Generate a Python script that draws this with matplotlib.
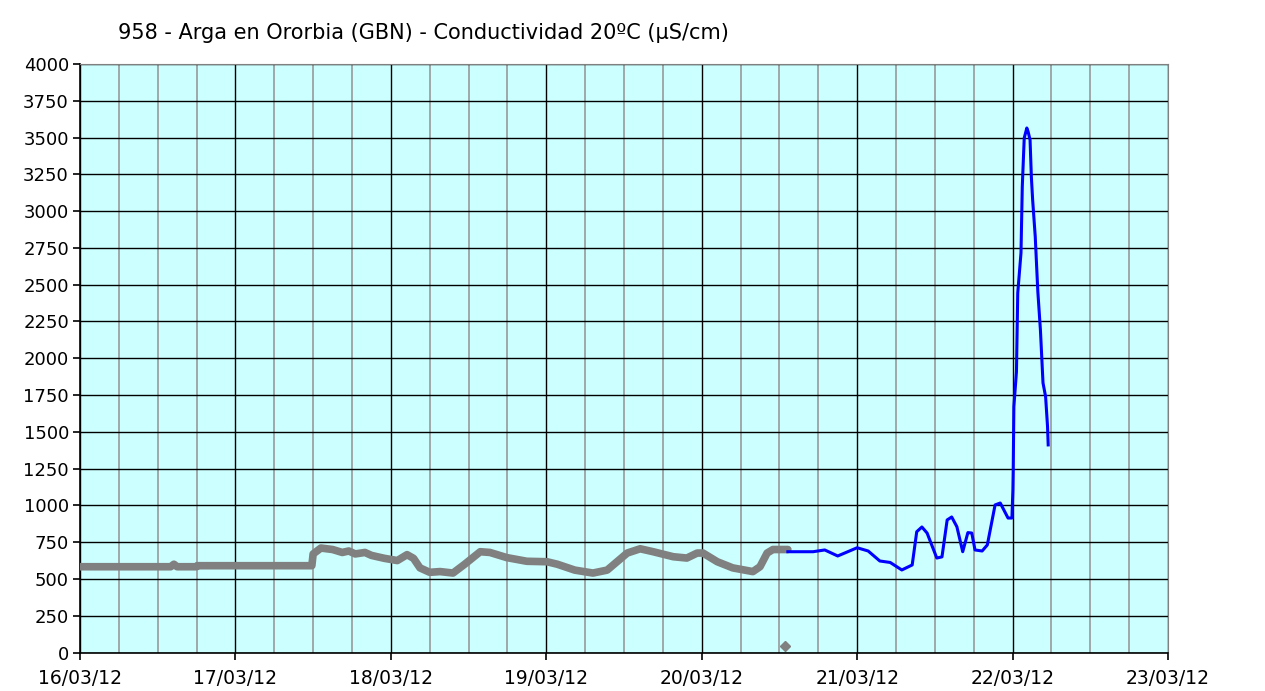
import datetime as dt
import matplotlib
matplotlib.use("Agg")
import matplotlib.pyplot as plt
import matplotlib.dates as mdates
from matplotlib.ticker import MultipleLocator

# ---- data (hours since 16/03/12 00:00, conductivity µS/cm) ----
grey_hours = [0, 14.0, 14.5, 15.0, 18.0, 18.1, 35.8, 36.0, 37.2, 39.0, 40.5, 41.5, 42.5,
              44.0, 45.0, 47.0, 49.0, 50.5, 51.5, 52.5, 54.0, 55.6, 57.6, 59.4, 61.8,
              63.3, 65.9, 69.0, 72.1, 73.7, 76.4, 79.2, 81.4, 84.5, 86.5, 88.5, 91.6,
              93.7, 95.3, 96.2, 98.4, 100.8, 103.9, 105.0, 106.1, 107.0, 109.3]
grey_values = [583, 583, 600, 583, 583, 590, 590, 670, 710, 700, 680, 690, 670,
               680, 660, 640, 625, 665, 640, 575, 545, 550, 540, 600, 685,
               680, 645, 620, 617, 600, 560, 540, 560, 676, 705, 685, 651,
               642, 676, 676, 617, 575, 550, 583, 676, 700, 700]
outlier_hours = [108.9]
outlier_values = [46]

blue_hours = [109.3, 113.2, 115.0, 117.0, 120.0, 121.7, 123.5, 125.1, 126.9, 128.5,
              129.2, 130.0, 130.8, 132.3, 133.1, 133.9, 134.6, 135.4, 136.3, 137.1,
              137.7, 138.2, 139.3, 140.1, 141.3, 142.1, 143.3, 143.9, 144.05, 144.1,
              144.2, 144.6, 144.8, 145.3, 145.5, 145.8, 146.2, 146.4, 146.7, 146.9,
              147.1, 147.5, 147.9, 148.3, 148.7, 149.1, 149.4, 149.5]
blue_values = [685, 685, 697, 656, 712, 690, 622, 612, 561, 595,
               821, 853, 812, 642, 650, 901, 921, 855, 685, 815,
               812, 697, 690, 731, 1003, 1016, 914, 914, 1105, 1240,
               1671, 1909, 2444, 2716, 3167, 3497, 3565, 3540, 3484, 3234,
               3076, 2827, 2453, 2192, 1832, 1739, 1535, 1411]

title = "958 - Arga en Ororbia (GBN) - Conductividad 20ºC (µS/cm)"
start = dt.datetime(2012, 3, 16)
end = dt.datetime(2012, 3, 23)

def to_dates(hours):
    return [start + dt.timedelta(hours=h) for h in hours]

plt.rcParams['font.family'] = ['DejaVu Sans']

fig = plt.figure(figsize=(12.65, 6.91), dpi=100)
ax = fig.add_axes([80/1265, 1-652.5/691, (1168-80)/1265, (652.5-64)/691])
ax.set_facecolor('#CCFFFF')

ax.plot(to_dates(grey_hours), grey_values, color='#808080', lw=5.5,
        solid_joinstyle='round', solid_capstyle='round', zorder=3)
ax.plot(to_dates(outlier_hours), outlier_values, linestyle='none', marker='D',
        markersize=5, color='#808080', zorder=3)
ax.plot(to_dates(blue_hours), blue_values, color='#0000FF', lw=2.2, zorder=4)

ax.set_xlim(start, end)
ax.set_ylim(0, 4000)
ax.yaxis.set_major_locator(MultipleLocator(250))
ax.xaxis.set_major_locator(mdates.DayLocator())
ax.xaxis.set_minor_locator(mdates.HourLocator(byhour=[6, 12, 18]))
ax.xaxis.set_major_formatter(mdates.DateFormatter('%d/%m/%y'))

ax.grid(True, which='minor', axis='x', color='#999999', lw=1.2, zorder=1)
ax.grid(True, which='major', axis='x', color='black', lw=1.0, zorder=1)
ax.grid(True, which='major', axis='y', color='black', lw=1.0, zorder=1)
ax.set_axisbelow(True)

for s in ['top', 'right']:
    ax.spines[s].set_color('#808080')
for s in ['left', 'bottom']:
    ax.spines[s].set_color('black')
    ax.spines[s].set_linewidth(1.2)

ax.tick_params(axis='y', which='major', direction='out', length=5, width=1.2,
               labelsize=13, pad=3)
ax.tick_params(axis='x', which='major', direction='out', length=5, width=1.2,
               labelsize=13.5, pad=7)
ax.tick_params(axis='x', which='minor', length=0)

fig.text(118/1265, 1-33/691, title, ha='left', va='center', fontsize=15)

fig.savefig('out.png', dpi=100, facecolor='white')
